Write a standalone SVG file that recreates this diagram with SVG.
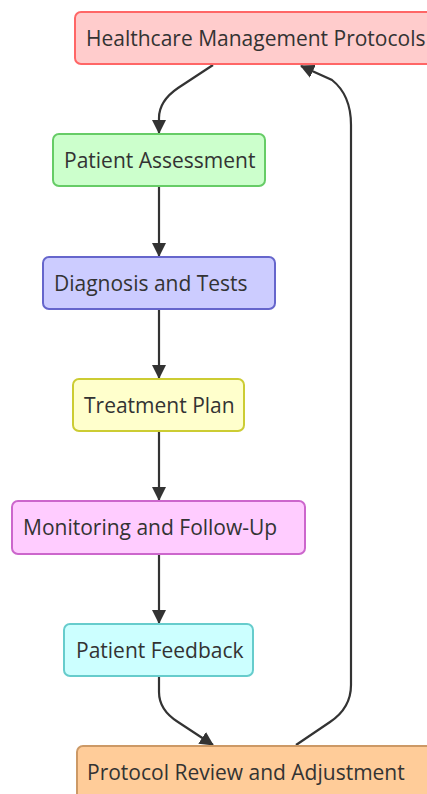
<svg xmlns="http://www.w3.org/2000/svg" width="427" height="794" viewBox="0 0 427 794">
<style>
.lbl{font-family:"Open Sans","Liberation Sans",sans-serif;font-size:21px;fill:#333;}
.edge{fill:none;stroke:#333;stroke-width:2.2;}
</style>
<defs>
<marker id="arr" viewBox="0 0 14 14" refX="13" refY="7" markerWidth="14" markerHeight="14" markerUnits="userSpaceOnUse" orient="auto">
<path d="M0,0 L14,7 L0,14 Z" fill="#333"/>
</marker>
</defs>
<rect width="427" height="794" fill="#fff"/>
<g id="connectors">
<path class="edge" d="M213,65 L178,88 Q159,101 159,118 L159,133" marker-end="url(#arr)"/>
<path class="edge" d="M159,186 L159,256" marker-end="url(#arr)"/>
<path class="edge" d="M159,309 L159,378" marker-end="url(#arr)"/>
<path class="edge" d="M159,431 L159,500" marker-end="url(#arr)"/>
<path class="edge" d="M159,554 L159,623" marker-end="url(#arr)"/>
<path class="edge" d="M159,676 L159,692 Q159,710 178,722 L213,745" marker-end="url(#arr)"/>
<path class="edge" d="M296,745 L330,722 Q351,708 351,685 L351,125 Q351,95 332,80 L301,66" marker-end="url(#arr)"/>
</g>
<g id="n1">
<rect x="75" y="12" width="370" height="52" rx="6" fill="#ffcccc" stroke="#ff6666" stroke-width="2"/>
<text class="lbl" x="86" y="46">Healthcare Management Protocols</text>
</g>
<g id="n2">
<rect x="53" y="134" width="212" height="52" rx="6" fill="#ccffcc" stroke="#66cc66" stroke-width="2"/>
<text class="lbl" x="64" y="168">Patient Assessment</text>
</g>
<g id="n3">
<rect x="43" y="257" width="232" height="52" rx="6" fill="#ccccff" stroke="#6666cc" stroke-width="2"/>
<text class="lbl" x="54" y="291">Diagnosis and Tests</text>
</g>
<g id="n4">
<rect x="73" y="379" width="171" height="52" rx="6" fill="#ffffcc" stroke="#cccc33" stroke-width="2"/>
<text class="lbl" x="84" y="413">Treatment Plan</text>
</g>
<g id="n5">
<rect x="12" y="501" width="293" height="53" rx="6" fill="#ffccff" stroke="#cc66cc" stroke-width="2"/>
<text class="lbl" x="23" y="535">Monitoring and Follow-Up</text>
</g>
<g id="n6">
<rect x="64" y="624" width="189" height="52" rx="6" fill="#ccffff" stroke="#66cccc" stroke-width="2"/>
<text class="lbl" x="76" y="658">Patient Feedback</text>
</g>
<g id="n7">
<rect x="77" y="746" width="370" height="60" rx="6" fill="#ffcc99" stroke="#cc9966" stroke-width="2"/>
<text class="lbl" x="87" y="780">Protocol Review and Adjustment</text>
</g>
</svg>
